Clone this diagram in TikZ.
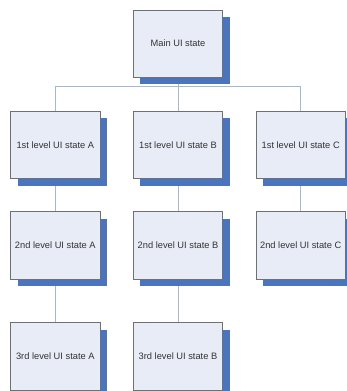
\documentclass[tikz,border=0pt]{standalone}
\usepackage{fontspec}
\setmainfont{Liberation Sans}
\usetikzlibrary{shadows,backgrounds}
\definecolor{boxfill}{HTML}{E8ECF6}
\definecolor{boxline}{HTML}{707070}
\definecolor{shadowblue}{HTML}{4A74BD}
\definecolor{linkblue}{HTML}{A3B9D2}
\tikzset{
  statebox/.style={draw=boxline, line width=0.9pt, fill=boxfill,
    minimum width=89.4pt, minimum height=67.4pt, inner sep=0pt,
    font=\fontsize{9.3}{11}\selectfont, text=black!80,
    drop shadow={shadow xshift=7pt, shadow yshift=-7pt, fill=shadowblue, opacity=1}},
  link/.style={draw=linkblue, line width=1pt}
}
\begin{document}
\begin{tikzpicture}[x=1pt,y=-1pt]
\useasboundingbox (0,0) rectangle (347,391);
\node[statebox] (main) at (178,43.65) {Main UI state};
\node[statebox] (a1) at (55.3,144.85) {1st level UI state A};
\node[statebox] (b1) at (178,144.85) {1st level UI state B};
\node[statebox] (c1) at (300.7,144.85) {1st level UI state C};
\node[statebox] (a2) at (55.3,245.5) {2nd level UI state A};
\node[statebox] (b2) at (178,245.5) {2nd level UI state B};
\node[statebox] (c2) at (300.7,245.5) {2nd level UI state C};
\node[statebox] (a3) at (55.3,356.5) {3rd level UI state A};
\node[statebox] (b3) at (178,356.5) {3rd level UI state B};
\coordinate (bus) at (0,86.7);
\begin{pgfonlayer}{background}
\draw[link] (main.south) -- (b1.north);
\draw[link] (main.south |- bus) -| (a1.north);
\draw[link] (main.south |- bus) -| (c1.north);
\draw[link] (a1.south) -- (a2.north);
\draw[link] (b1.south) -- (b2.north);
\draw[link] (c1.south) -- (c2.north);
\draw[link] (a2.south) -- (a3.north);
\draw[link] (b2.south) -- (b3.north);
\end{pgfonlayer}
\end{tikzpicture}
\end{document}
